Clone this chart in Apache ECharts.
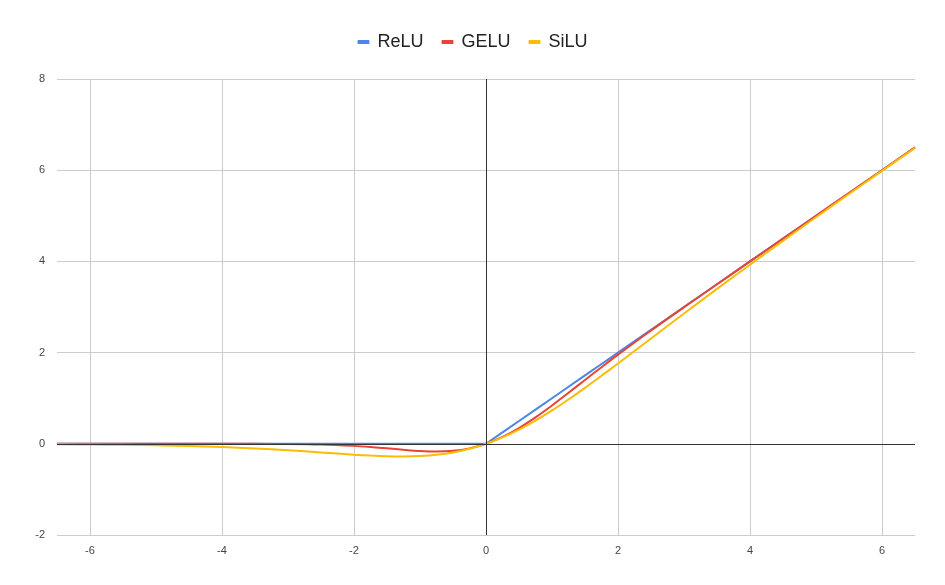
<!DOCTYPE html>
<html>
<head>
<meta charset="utf-8">
<title>ReLU GELU SiLU</title>
<script src="https://cdn.jsdelivr.net/npm/echarts@6/dist/echarts.min.js"></script>
<style>
  html, body { margin: 0; padding: 0; background: #fff; }
  #chart { width: 945px; height: 585px; }
</style>
</head>
<body>
<div id="chart"></div>
<script>
// x positions shared by all three curves
const xValues = [-6.5, -6, -5.5, -5, -4.5, -4, -3.5, -3, -2.5, -2, -1.75, -1.5, -1.25, -1, -0.75, -0.5, -0.25,
  0, 0.25, 0.5, 0.75, 1, 1.25, 1.5, 1.75, 2, 2.5, 3, 3.5, 4, 4.5, 5, 5.5, 6, 6.5]
const reluValues = [0, 0, 0, 0, 0, 0, 0, 0, 0, 0, 0, 0, 0, 0, 0, 0, 0,
  0, 0.25, 0.5, 0.75, 1, 1.25, 1.5, 1.75, 2, 2.5, 3, 3.5, 4, 4.5, 5, 5.5, 6, 6.5]
const geluValues = [0, 0, 0, 0, 0, -0.0001, -0.0008, -0.004, -0.0155, -0.0455, -0.070, -0.100, -0.132, -0.159, -0.170, -0.154, -0.100,
  0, 0.150, 0.346, 0.580, 0.841, 1.118, 1.400, 1.680, 1.955, 2.485, 2.996, 3.499, 4.0, 4.5, 5.0, 5.5, 6.0, 6.5]
const siluValues = [-0.010, -0.015, -0.022, -0.034, -0.049, -0.072, -0.103, -0.142, -0.190, -0.238, -0.259, -0.274, -0.278, -0.269, -0.241, -0.189, -0.110,
  0, 0.141, 0.311, 0.509, 0.731, 0.972, 1.226, 1.491, 1.762, 2.310, 2.858, 3.397, 3.928, 4.451, 4.967, 5.478, 5.985, 6.490]
const xTicks = [-6, -4, -2, 0, 2, 4, 6]
const seriesNames = ['ReLU', 'GELU', 'SiLU']

const chart = echarts.init(document.getElementById('chart'))

function pairs(ys) {
  return xValues.map((x, i) => [x, ys[i]])
}

const colors = ['#4a86e8', '#ea4335', '#fbbc04']

const option = {
  animation: false,
  color: colors,
  textStyle: { fontFamily: 'Arial, Liberation Sans, sans-serif' },
  legend: {
    top: 28,
    left: 'center',
    icon: 'roundRect',
    itemWidth: 12,
    itemHeight: 4,
    itemGap: 18,
    textStyle: { fontSize: 18, color: '#222', padding: [0, 0, 0, 3] },
    data: seriesNames
  },
  grid: {
    left: 57,
    right: 30,
    top: 79,
    bottom: 50,
    containLabel: false
  },
  xAxis: {
    type: 'value',
    min: -6.5,
    max: 6.5,
    axisLine: { show: false },
    axisTick: { show: false, customValues: xTicks },
    axisLabel: { customValues: xTicks, color: '#444', fontSize: 11, margin: 10 },
    splitLine: { show: true, lineStyle: { color: '#cccccc', width: 1 } }
  },
  yAxis: {
    type: 'value',
    min: -2,
    max: 8,
    interval: 2,
    axisLine: { show: false },
    axisTick: { show: false },
    axisLabel: { color: '#444', fontSize: 11, margin: 12 },
    splitLine: { show: true, lineStyle: { color: '#cccccc', width: 1 } }
  },
  series: [
    {
      name: 'ReLU',
      type: 'line',
      data: pairs(reluValues),
      showSymbol: false,
      smooth: false,
      lineStyle: { width: 2 },
      markLine: {
        silent: true,
        symbol: 'none',
        label: { show: false },
        lineStyle: { color: '#333', type: 'solid', width: 1 },
        data: [{ xAxis: 0 }, { yAxis: 0 }]
      }
    },
    {
      name: 'GELU',
      type: 'line',
      data: pairs(geluValues),
      showSymbol: false,
      smooth: 0.3,
      lineStyle: { width: 2 }
    },
    {
      name: 'SiLU',
      type: 'line',
      data: pairs(siluValues),
      showSymbol: false,
      smooth: 0.3,
      lineStyle: { width: 2 }
    }
  ]
}

chart.setOption(option)
</script>
</body>
</html>
